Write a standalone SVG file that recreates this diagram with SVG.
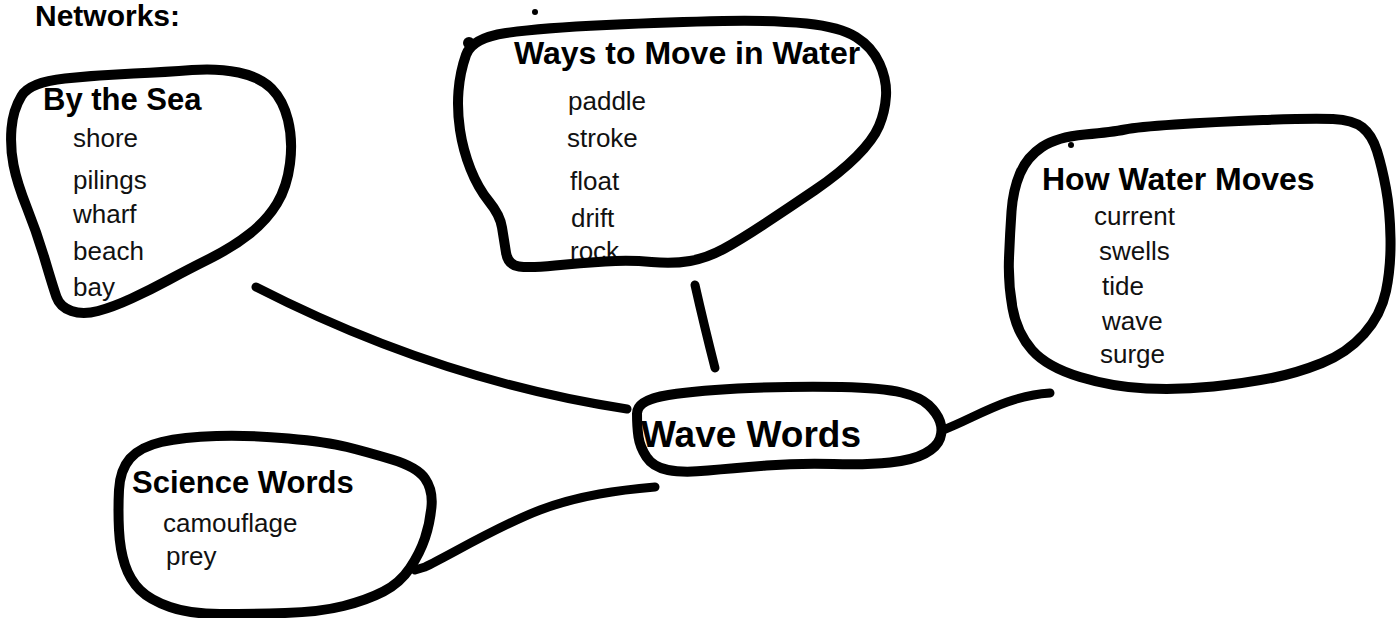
<svg xmlns="http://www.w3.org/2000/svg" width="1398" height="618" viewBox="0 0 1398 618">
<style>
.h{font-family:"Liberation Sans",Arial,sans-serif;font-weight:bold;font-size:31px;fill:#000}
.i{font-family:"Liberation Sans",Arial,sans-serif;font-size:26px;fill:#111}
.b{fill:none;stroke:#000;stroke-width:10;stroke-linecap:round;stroke-linejoin:round}
.c{fill:none;stroke:#000;stroke-width:9;stroke-linecap:round;stroke-linejoin:round}
</style>
<rect width="1398" height="618" fill="#fff"/>
<text class="h" x="35" y="26" style="font-size:30px">Networks:</text>
<g id="connectors">
<path class="c" d="M256,287 C340,330 470,385 627,409"/>
<path class="c" d="M695,285 Q704,325 715,368"/>
<path class="c" d="M943,430 C975,418 1005,396 1050,393"/>
<path class="c" d="M415,570 L425,567 C450,555 500,525 540,510 S620,490 655,487"/>
</g>
<g id="by-the-sea">
<text class="h" x="43" y="110">By the Sea</text>
<text class="i" x="73" y="147">shore</text>
<text class="i" x="73" y="189">pilings</text>
<text class="i" x="73" y="223">wharf</text>
<text class="i" x="73" y="260">beach</text>
<text class="i" x="73" y="296">bay</text>
<path class="b" d="M21.5,96 Q30,82 65,78.5 Q100,75 133.5,73.5 Q167,72 192,70 Q217,68 238.5,72.5 Q260,77 271.5,88.5 Q283,100 288,120 Q293,140 290,163.5 Q287,187 277,203.5 Q267,220 250,233.5 Q233,247 210,258.5 Q187,270 168.5,280 Q150,290 131.5,298.5 Q113,307 98,311 Q83,315 71.5,311 Q60,307 56.5,297 Q53,287 45,260 Q37,233 27,208 Q17,183 13.5,165 Q10,147 11.5,128.5 Q13,110 21.5,96 Z"/>
</g>
<g id="ways-to-move">
<text class="h" x="514" y="64" style="font-size:32px">Ways to Move in Water</text>
<text class="i" x="568" y="110">paddle</text>
<text class="i" x="567" y="147">stroke</text>
<text class="i" x="570" y="190">float</text>
<text class="i" x="571" y="227">drift</text>
<text class="i" x="570" y="260">rock</text>
<path class="b" d="M466,55 Q472,38 506,33 Q540,28 606.5,25 Q673,22 723,21 Q773,20 806.5,23.5 Q840,27 856,37 Q872,47 879.5,63.5 Q887,80 886,96 Q885,112 879,126 Q873,140 856.5,156.5 Q840,173 815,190 Q790,207 765,223.5 Q740,240 723.5,249 Q707,258 690,261 Q673,264 651.5,262 Q630,260 605,261.5 Q580,263 555,265.5 Q530,268 519,266.5 Q508,265 506,252.5 Q504,240 502,227.5 Q500,215 489,201.5 Q478,188 470.5,169 Q463,150 460,130 Q457,110 458.5,91 Q460,72 466,55 Z"/>
<circle cx="469" cy="43" r="6"/>
<circle cx="535" cy="12" r="3"/>
</g>
<g id="how-water-moves">
<text class="h" x="1042" y="190" style="font-size:32px">How Water Moves</text>
<text class="i" x="1094" y="225">current</text>
<text class="i" x="1099" y="260">swells</text>
<text class="i" x="1102" y="295">tide</text>
<text class="i" x="1102" y="330">wave</text>
<text class="i" x="1100" y="363">surge</text>
<path class="b" d="M1042,147 Q1057,137 1085,134.5 Q1113,132 1125,129.5 Q1137,127 1175,124.5 Q1213,122 1263,120 Q1313,118 1333,119 Q1353,120 1362.5,127.5 Q1372,135 1377,151 Q1382,167 1386,188.5 Q1390,210 1390.5,238.5 Q1391,267 1386,291 Q1381,315 1364,334 Q1347,353 1322,363 Q1297,373 1272,378 Q1247,383 1213.5,386.5 Q1180,390 1146.5,388.5 Q1113,387 1080,377 Q1047,367 1032,350 Q1017,333 1012.5,308 Q1008,283 1009,258 Q1010,233 1011.5,211.5 Q1013,190 1020,173.5 Q1027,157 1042,147 Z"/>
<circle cx="1071" cy="145" r="3"/>
</g>
<g id="wave-words">
<text class="h" x="641" y="447" style="font-size:37px">Wave Words</text>
<path class="b" d="M637,413.5 Q637,400 668.5,395 Q700,390 750,388 Q800,386 841.5,387 Q883,388 901.5,392.5 Q920,397 928.5,405 Q937,413 940,421.5 Q943,430 940,438.5 Q937,447 925,453.5 Q913,460 890,462.5 Q867,465 833.5,464 Q800,463 766.5,465.5 Q733,468 708,470.5 Q683,473 668,470 Q653,467 646.5,457 Q640,447 638.5,437 Q637,427 637,413.5 Z"/>
</g>
<g id="science-words">
<text class="h" x="132" y="493">Science Words</text>
<text class="i" x="163" y="532">camouflage</text>
<text class="i" x="166" y="565">prey</text>
<path class="b" d="M130,458.5 Q140,447 161.5,442 Q183,437 216.5,436 Q250,435 288.5,438.5 Q327,442 347,447 Q367,452 392,459.5 Q417,467 425,478.5 Q433,490 431.5,506.5 Q430,523 425,538 Q420,553 410,568 Q400,583 383.5,591.5 Q367,600 343.5,606 Q320,612 285,613 Q250,614 220,614 Q190,614 170,607 Q150,600 140,590 Q130,580 125,565 Q120,550 119,530 Q118,510 119,490 Q120,470 130,458.5 Z"/>
</g>
</svg>
